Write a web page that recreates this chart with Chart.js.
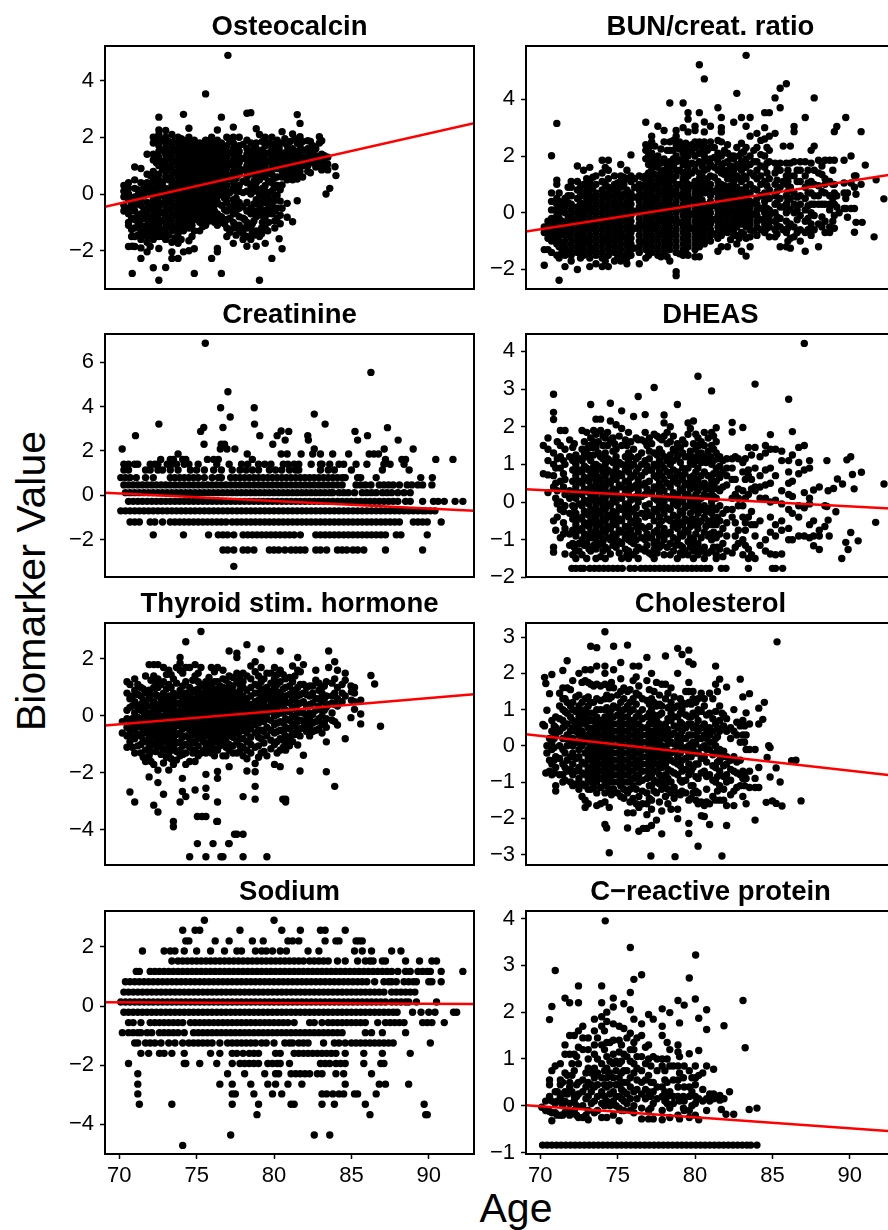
<!DOCTYPE html>
<html>
<head>
<meta charset="utf-8">
<title>Biomarker Value by Age</title>
<script src="https://cdn.jsdelivr.net/npm/chart.js@4/dist/chart.umd.min.js"></script>
<style>
html, body { margin: 0; padding: 0; background: #fff; overflow: hidden; }
#page { position: relative; width: 888px; height: 1230px; overflow: hidden; font-family: "Liberation Sans", Arial, sans-serif; color: #000; }
canvas { position: absolute; }
#ylab { position: absolute; left: 31px; top: 581px; font-size: 41px; white-space: nowrap; transform: translate(-50%, -50%) rotate(-90deg); }
#xlab { position: absolute; left: 516px; top: 1208px; font-size: 41px; white-space: nowrap; transform: translate(-50%, -50%); }
</style>
</head>
<body>
<div id="page">
<div id="ylab">Biomarker Value</div>
<div id="xlab">Age</div>
</div>
<script>
const xTicks = [70, 75, 80, 85, 90];
const xRange = [69.08, 92.92];
const minus = '\u2212';

const titles = ['Osteocalcin', 'BUN/creat. ratio', 'Creatinine', 'DHEAS', 'Thyroid stim. hormone', 'Cholesterol', 'Sodium', `C${minus}reactive protein`];
const yRanges = [[-3.35, 5.22], [-2.69, 5.88], [-3.68, 7.27], [-1.99, 4.46], [-5.23, 3.26], [-3.29, 3.39], [-5.0, 3.21], [-1.03, 4.16]];
const yTicks = [[-2, 0, 2, 4], [-2, 0, 2, 4], [-2, 0, 2, 4, 6], [-2, -1, 0, 1, 2, 3, 4], [-4, -2, 0, 2], [-3, -2, -1, 0, 1, 2, 3], [-4, -2, 0, 2], [-1, 0, 1, 2, 3, 4]];
const fitLines = [[-0.45, 2.5], [-0.66, 1.37], [0.12, -0.69], [0.34, -0.18], [-0.34, 0.76], [0.32, -0.83], [0.125, 0.07], [0.01, -0.55]];
const plotTops = [46, 334, 623, 911];
const plotBottoms = [289, 577, 865, 1154];
const plotLefts = [105, 526];

// age rows: [age, value, value, ...]
const osteocalcin = [
[70.3,.3,.1,-.1,-.4,-.6],[70.6,.4,.2,0,-.2,-.5,-.7,-1,-1.1,-1.85],[70.84,-2.8,-1.84],[71,.5,.2,-.1,-.4,-.6,-.9,-1.2,-1.5,-1.85,.95],
[71.4,.9,.4,.1,-.2,-.4,-.7,-.9,-1.1,-1.3,-1.6,-1.9,-2.27],[71.8,1.4,.7,.4,.1,-.3,-.5,-.7,-.9,-1.1,-1.3,-1.5,-1.7,-2.04],
[72.2,2,1.8,1.4,1.2,.8,.5,.2,0,-.2,-.4,-.6,-.8,-1,-1.2,-1.4,-1.6,-2.6],[72.56,2.71,2.26,2.1,1.7,1.5,1.3,1,.7,.5,.3,.1,-.1,-.3,-.5,-.7,-.9,-1.1,-1.3,-1.5,-1.92,-3.04],
[73,2.24,2,1.8,1.6,1.4,1.2,1,.8,.6,.2,0,-.2,-.4,-.6,-.8,-1,-1.2,-1.4,-1.6,-2.59],[73.4,2.1,1.7,1.5,1.3,1.1,.9,.7,.5,.3,.1,-.1,-.3,-.5,-.7,-.9,-1.1,-1.3,-1.7,-2.04,-2.27],
[73.8,2,1.8,1.6,1.4,1.2,1,.8,.6,.4,.2,0,-.2,-.4,-.6,-.8,-1,-1.2,-1.4,-1.74,-2.27],[74.15,2.81,1.9,1.7,1.5,1.3,1.1,.9,.7,.5,.3,.1,-.1,-.3,-.5,-.7,-.9,-1.1,-1.3,-2.04],
[74.5,2.32,2,1.8,1.6,1.4,1.2,1,.8,.6,.4,.2,0,-.2,-.4,-.6,-.8,-1,-1.2,-1.65,-2],[74.85,1.9,1.7,1.5,1.3,1.1,.9,.7,.5,.3,.1,-.1,-.3,-.5,-.7,-.9,-1.3,-1.93,-2.8],
[75.2,1.8,1.6,1.4,1.2,1,.8,.6,.4,.2,0,-.2,-.4,-.6,-.8,-1,-1.3],[75.58,3.53,1.9,1.7,1.5,1.3,1.1,.9,.7,.5,.3,.1,-.1,-.3,-.5,-.7,-.9,-1.1],
[75.97,2,1.8,1.6,1.4,1.2,1,.8,.6,.4,.2,0,-.2,-.4,-.6,-.8,-2.27],[76.34,2.26,1.9,1.7,1.5,1.3,1.1,.9,.7,.5,.3,.1,-.1,-.3,-.7,-.9,-1.1,-1.92,-2.04],
[76.6,2.71,1.8,1.6,1.4,1.2,1,.8,.6,.4,.2,0,-.4,-.8,-1,-2.8],[76.95,2,1.7,1.5,1.3,1.1,.9,.7,.5,.3,.1,-.1,-.3,-.6,-.9,-1.2,-1.5],
[77.37,2.36,2,1.8,1.6,1.4,1.2,1,.8,.6,.4,.2,-.2,-.4,-.7,-1,-1.2,-1.74],[77.75,2,1.7,1.5,1.3,1.1,.9,.7,.3,.1,-.3,-.5,-.8,-1.1,-1.3],
[78.25,2.85,1.9,1.6,1.4,1.2,1,.8,.6,.4,.1,-.3,-.6,-1,-1.2,-1.5,-1.84],[78.5,2.87,1.8,1.5,1.3,1.1,.9,.7,.3,0,-.5,-.7,-1.2,-1.6],
[78.85,2.3,1.8,1.6,1.4,1.2,1,.8,.6,.4,.2,-.2,-.6,-.8,-1.3,-1.84],[79.06,2.1,1.5,1.3,1.1,.9,.5,0,-.4,-.7,-1.5,-3.04],
[79.43,2,1.7,1.4,1.2,1,.8,.6,.3,.1,-.3,-.6,-.8,-1.2,-1.74],[79.86,2,1.6,1.3,1.1,.9,.7,.4,.1,-.4,-.7,-2.27],
[80.2,1.9,1.7,1.5,1.3,1.1,.9,.6,.3,-.04,-.5,-.85],[80.52,2.2,1.8,1.4,1.2,1,.8,.6,.32,-.5,-1.93],[80.33,-1.58,1.6],
[80.85,1.7,1.5,1.3,1.1,.9,.7,.5,-.33,-.82],[81.2,2.12,1.6,1.4,1.2,1,.8,.5,-.98],[81.5,2.8,1.8,1.5,1.3,1.1,.9,.7,.53,-.24],
[81.68,2.49,2.02,1.7,1.4,1.2,.8],[82.18,1.88,1.6,1.4,1.2,1,.8],[82.5,1.7,1.5,1.3,1.1],[82.93,2.02,1.8,1.3,1.1,1.3],[83.08,1.88,1.4,1.2,1,.85],
[83.47,1.3,1.05,.85],[83.6,.2],[83.36,0],[83.94,.96],[84,.65],[77.02,4.89]
];
const osteocalcinFill = [
[70.8,-.35,-.85,-1.25,-1.5],[71.2,.15,-.05,-.3,-.75,-1,-1.45],[71.6,.25,-.05,-.55,-.8,-1.2,-1.45],[72,.65,.3,.05,-.45,-.85,-1.2,-1.45,-1.85],[72.4,1.9,1.1,.65,.4,.15,-.15,-.45,-.75,-1.05,-1.35],
[72.8,1.9,1.55,1.15,.85,.4,.15,-.05,-.35,-.65,-.95,-1.25,-1.5],[73.2,1.85,1.4,.95,.5,.1,-.25,-.55,-.85,-1.15,-1.45],[73.6,1.9,1.55,1.15,.75,.35,-.05,-.45,-.75,-1.2,-1.55],[74,1.95,1.45,1.05,.65,.25,-.15,-.5,-.85,-1.25,-1.6],
[74.7,1.6,1.2,.8,.4,0,-.4,-.8,-1.1,-1.5],[75.4,1.65,1.25,.85,.45,.05,-.35,-.75,-1.15],[75.8,1.75,1.35,.95,.55,.15,-.25,-.65,-.95],[76.15,1.65,1.25,.85,.45,.05,-.4,-.6,-1],[76.8,1.65,1.15,.75,.25,-.15,-.55,-1.05],
[77.15,1.85,1.45,1.05,.65,.05,-.5,-.85,-1.35],[77.55,1.55,1.05,.55,.1,-.15,-.6,-1.1,-1.45],[78,1.75,1.25,.85,.45,.05,-.45,-.85,-1.4,-1.6],[78.7,1.65,1.25,.85,.45,.1,-.35,-.95,-1.45],[79.25,1.85,1.55,1.2,.7,.2,-.1,-.55,-1],
[79.65,1.8,1.45,1.15,.75,.45,-.15,-.5,-1],[80,1.75,1.45,1.05,.55,.2,-.25],[80.7,1.95,1.45,1.05,.75],[81.05,1.85,1.5,1.15,.9,.7],[81.35,1.95,1.3,1,.65],[81.85,1.85,1.55,1.3,1,.6],[82.35,1.85,1.35,1.15,.75],[82.7,1.6,1.35,1.15,.95],[83.25,1.35,1.1,.9],
[78.1,-.9,-1.2],[78.6,.2,-1.05,-1.35],[79.2,-.3,-.75,-1.2,-1.4],[79.6,.05,-.25,-.7,-1.3],[80.05,-.05,-.6,-.95,-1.2],[80.4,.15,-.25,-.75,-1.05]
];
const bunRatio = [
[70.26,-1.85,-1.3,-.5,-.7],[70.5,-.3,-.5,-.7,-.9,-1.3],[70.73,2.01,.7,.4,.1,-.2,-.4,-.6,-.8,-1,-1.4],[71.07,3.15,1.15,1,.5,.3,.1,-.1,-.3,-.5,-.7,-.9,-1.1,-1.5],
[71.22,-2.38,.7,.4,.2,0,-.2,-.4,-.6,-.8,-1,-1.2,-1.6],[71.6,.5,.2,0,-.4,-.6,-.8,-1,-1.2,-1.5,-1.9],[72,1.1,.9,.6,.3,.1,-.1,-.3,-.5,-.7,-.9,-1.1,-1.3,-1.5,-1.7],
[72.4,1.65,1.1,.8,.5,.2,0,-.2,-.4,-.6,-.8,-1,-1.2,-1.4,-2],[72.8,1.5,1,.7,.3,.1,-.1,-.3,-.5,-.7,-.9,-1.1,-1.3,-1.5],[73.2,1.6,1.1,.8,.6,.4,.2,0,-.2,-.4,-.6,-.8,-1,-1.2,-1.4,-1.6,-1.9],
[73.6,1.3,1,.7,.5,.3,.1,-.1,-.3,-.5,-.7,-.9,-1.1,-1.3,-1.5,-1.8],[74,1.85,1.4,1.1,.8,.6,.4,.2,0,-.2,-.4,-.6,-.8,-1,-1.2,-1.4,-1.6,-1.9],
[74.4,1.85,1.5,1.2,.9,.7,.5,.3,.1,-.1,-.3,-.5,-.7,-.9,-1.1,-1.3,-1.5,-1.9],[74.8,1.3,1,.8,.6,.4,.2,0,-.2,-.4,-.6,-.8,-1,-1.2,-1.4,-1.7],
[75.2,1.7,1.3,1.1,.9,.5,.3,.1,-.1,-.3,-.5,-.7,-.9,-1.1,-1.3,-1.5,-1.7],[75.6,1.5,1.2,.8,.6,.4,.2,0,-.2,-.4,-.6,-.8,-1,-1.2,-1.4,-1.6,-1.8],
[75.86,2.04,1.3,1.1,.7,.5,.3,.1,-.1,-.3,-.5,-.7,-.9,-1.1,-1.3,-1.5],[76.4,1.3,1,.8,.6,.4,.2,0,-.2,-.4,-.6,-.8,-1,-1.2,-1.4,-1.8],
[76.82,3.19,2.4,2.2,1.9,1.3,1.1,.9,.7,.5,.3,.1,-.1,-.3,-.5,-.7,-.9,-1.1,-1.3,-1.6],[77.2,2.7,2.5,2.1,1.8,1.5,1.2,1,.8,.6,.4,.2,0,-.2,-.4,-.6,-.8,-1,-1.2,-1.4],
[77.6,3.05,2,1.8,1.6,1.3,1.1,.9,.7,.5,.3,.1,-.1,-.3,-.5,-.7,-.9,-1.1,-1.3,-1.5],[78,2.9,2.5,1.9,1.5,1.2,1,.8,.6,.4,.2,0,-.2,-.4,-.6,-.8,-1,-1.2,-1.4],
[78.37,3.87,2.5,2.2,1.8,1.6,1.4,1.1,.9,.7,.5,.3,.1,-.1,-.3,-.5,-.7,-.9,-1.1,-1.3,-1.7],[78.78,2.9,2.7,2.4,2,1.8,1.5,1.3,1,.8,.6,.4,.2,0,-.2,-.4,-.6,-.8,-1,-1.2,-1.4,-2.08,-2.22],
[79.23,3.87,3,2.4,2.1,1.9,1.7,1.4,1.2,.9,.7,.5,.3,.1,-.1,-.3,-.5,-.7,-.9,-1.1,-1.3,-1.5],[79.55,3.53,3.3,2.85,2.35,2,1.6,1.3,1,.8,.6,.4,.2,0,-.2,-.4,-.6,-.8,-1,-1.2,-1.5],
[80,3.05,2.9,2.5,2.3,2,1.7,1.5,1.1,.9,.7,.5,.3,.1,-.1,-.3,-.5,-.7,-.9,-1.1,-1.3,-1.55],[80.28,5.22,3.53,2.5,2.35,2.1,1.8,1.4,1.2,1,.8,.6,.4,.2,0,-.2,-.4,-.6,-.8,-1,-1.2,-1.55],
[80.6,4.72,3.2,2.85,2.5,2.35,2,1.8,1.5,1.1,.9,.7,.3,.1,-.1,-.3,-.5,-.7,-.9,-1.1],[81,3.05,2.5,2.3,1.9,1.7,1.3,1,.8,.6,.4,.2,0,-.2,-.4,-.6,-.8,-1],
[81.48,3.7,2.55,2.1,1.8,1.5,1.1,.9,.7,.5,.3,.1,-.1,-.3,-.5,-.7,-.9,-1.36],[81.7,3.36,3,2.85,2.5,2,1.6,1.4,1,.8,.6,.4,.2,0,-.2,-.4,-.6,-.8,-1.2],
[82.1,2.4,2.1,1.8,1.5,1.2,.9,.7,.5,.3,.1,-.1,-.3,-.5,-.7,-1.2],[82.5,3.19,2,1.9,1.5,1.1,.8,.6,.4,.2,0,-.2,-.4,-.6,-.8],
[82.7,4.21,2.3,1.7,1.3,.9,.5,.3,.1,-.1,-.3,-.5,-.8,-1.1],[83,3.36,2.45,2.1,1.8,1.5,1.1,.8,.6,.4,.2,0,-.2,-.4,-.7,-1.36],
[83.3,5.55,3.05,2.3,1.9,1.6,1.2,.9,.5,.3,.1,-.1,-.3,-.5,-.9,-1.53],[83.56,3.36,2.7,2,1.7,1.4,1,.7,.4,.2,0,-.2,-.4,-.6,-.85,-1.2],
[84,2.8,2.3,1.8,1.5,1.2,.8,.5,.3,.1,-.1,-.3,-.5,-.8],[84.5,3.53,3,2.6,2,1.6,1.1,.7,.4,.2,0,-.2,-.4,-.7],[84.8,3.53,2.7,2.2,1.8,1.2,.8,.5,.1,-.1,-.3,-.5,-.85],
[85.17,4.05,2.8,1.75,1.4,1,.6,.3,0,-.3,-.6,-.85],[85.5,4.39,3.7,1.75,1.5,.9,.5,.2,-.2,-.5,-1.2],[85.9,4.55,1.75,1.3,1,.6,.3,0,-.3,-.7,-1.2],
[85.7,2.35,1.1,.2,-.6],[86.16,2.35,1.75,1.3,.9,.5,.1,-.4,-.9,-1.25],[86.4,3.04,2.86,1.8,1.3,.7,.3,0,-.5,-.85],[86.8,1.8,1.5,1.1,.6,.3,-.1,-.6,-1],
[87.12,3.36,1.8,1.3,.9,.5,.1,-.3,-.7,-1.36],[87.5,2.2,1.75,1.1,.7,.3,0,-.4,-.8],[87.7,4.05,2.35,1.5,1,.6,.3,-.1,-.6],[87.98,1.85,1.4,.95,.6,.3,-.4,-1.2],
[88.4,1.85,1.2,1,.7,.3,-.3,-.7],[88.7,1.85,1.1,.6,.3,.1,-.5,-.7],[89,2.86,1.85,1,.7,.3,-.1,-.55],[89.16,3.04,.6,.2],[89.63,1.85,1.05,.7,.15],[89.74,3.36,.5,.15],
[89.85,-.16,.7],[90.08,2,1.05,.15],[90.3,1.3,.9,.15,-.69],[90.4,-.34,1.3,.65],[90.73,2.86,1],[90.8,-.34],[91,1.68],[91.57,-.85],[91.7,1.16],[92.2,.49],[89.31,0]
];
const bunFill = [
[71.4,.3,.1,-.3,-.7,-1.1,-1.4],[71.8,.9,.6,.35,-.2,-.7,-1.35],[72.6,.9,.6,.35,.05,-.35,-.75,-1.25,-1.6],[73,1.2,.9,.5,.1,-.5,-1],[73.4,1.25,.9,.5,.05,-.5,-1.3],[74.2,1.6,1,.55,.15,-.35,-.9,-1.7],[75,1.05,.7,.2,-.25,-.75,-1.6],
[75.4,1.25,1,.65,.15,-.25,-.85,-1.6],[76.1,1.2,.9,.55,.05,-.55,-1.25],[76.6,1.25,.95,.6,.15,-.45,-1.05],[77,2.3,2,1.7,1.4,1.05,.65,.15,-.35,-1.5],[77.4,2.35,1.95,1.65,1.35,.95,.45,-.05,-.55],[77.8,2.25,1.75,1.4,1.1,.75,.25,-.25,-.75,-1.55],
[78.2,2.2,1.7,1.3,.9,.45,.05,-.45,-1.55],[78.6,2.55,2.2,1.9,1.65,1.2,.7,.25,-.25,-.75],[79,2.5,2.25,1.85,1.5,1,.6,.15,-.35,-1.45],[79.4,2.45,2.2,1.8,1.45,1.1,.65,.2,-.3,-1.4],[79.8,2.4,2.15,1.75,1.4,.95,.45,-.05,-.55],[80.45,2.15,1.65,1.3,.95,.45,-.05,-.55],
[80.8,2.2,1.85,1.55,1.2,.8,.2,-.3],[81.25,2.3,1.95,1.6,1.25,.75,.25,-.25,-.75],[81.9,2.2,1.75,1.35,.95,.45,-.05,-.55],[82.3,2,1.65,1.3,.95,.5,.05,-.55,-.95],[82.85,2,1.6,1.2,.7,.2,-.25,-.9],[83.15,2.15,1.7,1.3,.7,.2,-.35,-.75],[83.8,2.2,1.8,1.3,.85,.35,-.05,-.65],
[84.25,2.55,2.05,1.65,1.3,1,.6,.15,-.25,-.6],[84.65,2.3,1.75,1.4,.95,.55,.15,-.55],[85.3,1.55,1.15,.75,.35,-.15,-.45,-.75],[86,1.5,1.1,.75,.45,.15,-.55,-1],[86.6,1.5,1.1,.55,.1,-.25,-.7],[87.3,1.5,1.05,.7,.25,-.2,-.6],[88.2,1.65,1.35,.75,.3,-.15,-.5],[88.9,1.5,1,.5,.3,-.3]
];
// creatinine is in discrete levels: [value, age, age, ...]
const creatinineLevels = [
[1.62,72.68,73.3,73.5,74.1,74.3,75.7,76.1,76.4,78.6,88.26,88.5,90.45,91.56,87.2],
[1.4,70.3,70.6,71,71.2,72,72.3,72.5,73.1,73.4,73.7,74.2,74.5,75.1,76.3,77.1,77.9,78.3,79,79.4,79.8,80.6,80.9,81.3,81.6,82.4,83,83.1,83.6,84.2,84.5,85.3,86,87.1,87.5,88.4],
[1.14,70.3,70.6,71.7,72,72.5,72.8,73.3,73.8,74.6,75,75.5,76.1,76.6,77.3,77.8,78.2,78.6,79,79.7,80.1,80.5,81,81.4,81.6,83,83.5,83.9,85,87,88.73],
[.8,70.1,70.4,70.7,71.1,71.7,72.2,73.3,73.6,73.9,74.2,74.5,74.8,75.1,75.5,76,76.4,76.6,77.2,77.5,77.8,78.1,78.4,78.7,79,79.3,79.6,79.9,80.2,80.5,80.8,81.1,81.4,81.7,82,82.3,82.6,82.9,83.2,83.5,83.8,84.1,84.4,84.6,85.4,85.6,86.6,89.48,90.23],
[.47,70.3,70.6,70.9,71.2,71.5,71.8,72.1,72.4,72.7,73,73.3,73.6,73.9,74.2,74.5,74.8,75.1,75.4,75.7,76,76.3,76.6,76.9,77.2,77.5,77.8,78.1,78.4,78.7,79,79.3,79.6,79.9,80.2,80.5,80.8,81.1,81.4,81.7,82,82.3,82.6,82.9,83.2,83.5,83.8,84.1,84.4,85.3,85.6,85.9,86.26,86.8,87.1,87.4,87.7,88.1,88.6,88.9,89.3,89.6,90.2],
[.12,70.4,70.7,71,71.3,71.6,71.9,72.2,72.5,72.8,73.1,73.4,73.7,74,74.3,74.6,74.9,75.2,75.5,75.8,76.1,76.4,76.7,77,77.3,77.6,77.9,78.2,78.5,78.8,79.1,79.4,79.7,80,80.3,80.6,80.9,81.2,81.5,81.8,82.1,82.4,82.7,83,83.3,83.6,83.8,84.2,84.5,84.8,85.2,85.7,86,86.3,86.6,87,87.3,87.6,88,88.4,88.8],
[-.27,70.6,70.9,71.2,71.5,71.8,72.1,72.4,72.7,73,73.3,73.6,73.9,74.2,74.5,74.8,75.1,75.4,75.7,76,76.3,76.6,76.9,77.2,77.5,77.8,78.1,78.4,78.7,79,79.3,79.6,79.9,80.2,80.5,80.8,81.1,81.4,81.7,82,82.3,82.6,82.9,83.2,83.5,83.8,84.1,84.4,84.7,85,85.3,85.6,85.9,86.2,86.5,86.8,87.1,87.4,87.7,88,88.5,88.8,89.6,90.3,90.6,91,91.7,92.2],
[-.7,70.1,70.4,70.7,71,71.3,71.6,71.9,72.2,72.5,72.8,73.1,73.4,73.7,74,74.3,74.6,74.9,75.2,75.5,75.8,76.1,76.4,76.7,77,77.3,77.6,77.9,78.2,78.5,78.8,79.1,79.4,79.7,80,80.3,80.6,80.9,81.2,81.5,81.8,82.1,82.4,82.7,83,83.3,83.6,83.9,84.2,84.5,84.8,85.1,85.4,85.7,86,86.3,86.6,86.9,87.2,87.5,87.8,88.1,88.4,88.7,89,89.3,89.6,89.8,90.1,90.4],
[-1.2,70.7,71,71.3,72,72.3,72.8,73.3,73.6,73.9,74.2,74.5,74.8,75.1,75.4,75.7,76,76.3,76.6,76.9,77.3,77.6,77.9,78.2,78.5,78.8,79.1,79.4,79.7,80,80.3,80.6,80.9,81.2,81.5,81.8,82.1,82.4,82.7,83,83.3,83.6,83.9,84.2,84.5,84.8,85.1,85.4,85.7,86,86.3,86.6,86.9,87.2,87.5,87.8,88.1,89,89.3,89.6,89.9,90.8],
[-1.78,72.2,74.15,75.77,76.4,76.7,77,77.4,78,78.3,78.6,78.9,79.2,79.5,79.8,80.1,80.4,80.7,81,81.3,81.7,82.7,83,83.3,83.6,83.9,84.2,84.5,84.8,85.1,85.4,85.7,86,86.3,86.6,86.9,87.2,87.9,88.2,89.9],
[-2.46,76.7,77,77.4,78,78.3,78.7,79.7,80,80.3,80.7,81.1,81.4,81.7,82,82.7,83,83.4,84.1,84.4,84.7,85.1,85.4,85.8,87.2,89.6],
[-3.2,77.4]
];
const creatinineOut = [[75.56,6.85],[86.26,5.54],[77.02,4.67],[76.55,3.95],[78.72,3.95],[77.17,3.53],[72.56,3.21],[78.74,3.21],[82.6,3.66],[83.3,3.21],[75.46,3.06],[75.26,2.88],[76.7,3.06],[71.05,2.69],[79.08,2.69],[80.46,2.9],[80.2,2.69],[80.95,2.88],[80.72,2.49],[82.18,2.69],[82.22,2.49],[85.23,2.88],[85.4,2.49],[86.04,2.69],[87.33,3.05],[88.02,2.49],[75.48,2.3],[79.92,2.3],[70.19,2.09],[76.59,2.3],[76.8,2.3],[76.53,2.09],[76.96,2.09],[77.47,2.09],[82.6,2.09],[87.12,2.09],[88.99,2.09],[73.8,1.86],[78.27,1.86],[80.46,1.86],[80.85,1.86],[81.75,1.86],[82.5,1.86],[83,1.86],[83.79,1.86],[84.82,1.86],[86.15,1.86],[86.45,1.86],[86.75,1.86]];
const dheas = [
[70.2,1.5,.75],[70.5,1.7,1.4,1.1,.72,.25],[70.86,2.86,2.38,2.19,1.3,1,.7,.4,-.5,-1.2,-1.33],[71,.9,.5,.1,-.75],[71.3,1.9,1.5,1.2,.9,.55,0,-.2,-.95],[71.6,1.9,1.4,1,.6,.2,-.1,-.7,-1.38],
[71.9,1.65,1.2,.3,.1,-.3,-.85,-1.15],[72.3,1.25,1,.7,.4,.1,-.3,-.6,-.9,-1.3,-1.5],[72.7,1.9,1.4,1.1,.8,.5,.2,-.1,-.4,-.7,-1,-1.4],[73,1.85,1.4,1.2,.9,.6,.3,0,-.3,-.6,-.9,-1.1,-1.5],
[73.26,2.59,1.7,1.1,.7,.4,.1,-.2,-.5,-.8,-1.3],[73.6,2.2,1.8,1.45,1,.8,.5,.2,-.1,-.4,-.7,-1,-1.25,-1.5],[73.9,2.2,1.9,1.2,.9,.6,.3,0,-.3,-.6,-.9,-1.1,-1.45],[74.2,1.7,1.3,1,.7,.4,.1,-.2,-.5,-.8,-1.2,-1.5],
[74.53,2.62,2.15,1.65,1.1,.8,.5,.2,-.1,-.4,-.7,-1,-1.38],[74.9,2.05,1.4,1.2,.9,.6,.3,0,-.3,-.6,-.9,-1.2],[75.26,2.42,1.95,1.5,1,.7,.4,.1,-.2,-.5,-.8,-1.1,-1.5],[75.7,1.85,1.3,1.1,.8,.5,.2,-.1,-.4,-.7,-1,-1.3,-1.5],
[76.03,2.27,1.4,1,.7,.4,.1,-.2,-.5,-.9,-1.1,-1.4],[76.33,2.8,1.65,1.2,.9,.6,.3,0,-.5,-.8,-1.2,-1.5],[76.78,2.32,1.85,1.6,1.1,.8,.5,.2,-.1,-.4,-.7,-1,-1.3],[77.36,3.04,1.8,1.3,1,.7,.4,.1,-.2,-.5,-.8,-1.1,-1.25,-1.5],
[77.7,1.7,1.4,1.1,.8,.5,.2,-.1,-.4,-.6,-.9,-1.2],[78,2.31,2.1,1.75,1.2,.9,.6,.3,0,-.3,-.7,-1,-1.4],[78.4,2,1.6,1.25,1,.7,.4,.1,-.2,-.5,-.8,-1.1,-1.4],[78.86,2.59,1.55,1.2,.8,.5,.2,-.1,-.4,-.7,-1,-1.5],
[79.2,1.65,1.3,.9,.6,.3,0,-.3,-.6,-.9,-1.2,-1.4],[79.55,2.1,1.8,1.2,.9,.5,.2,-.1,-.5,-.8,-1.05,-1.4],[79.9,2.15,1.55,1,.7,.4,.1,-.2,-.6,-1,-1.3,-1.5],[80.19,3.34,1.7,1.25,.9,.6,.3,0,-.3,-.7,-1.1,-1.4],
[80.6,1.85,1.5,1.2,.8,.5,.2,-.1,-.4,-.8,-1.2,-1.5],[81.07,2.95,1.85,1.5,1,.6,.3,0,-.3,-.6,-1,-1.3],[81.37,1.97,1.6,1.3,.9,.55,.1,-.2,-.6,-.95,-1.4,-1.5],[81.8,1.1,.8,.4,-.3,-.7,-1.1,-1.45],
[82.4,2.11,1.86,1.15,.9,.6,.1,-.2,-.4,-1.35],[82.8,1.15,.35,.1,-.1,-.75,-1.1],[83.09,1.98,1.05,.8,.3,-.1,-.4,-1,-1.4],[83.45,1.45,.85,.7,.2,-.4,-1.25,-1.5],[83.88,3.13,1.45,.9,.4,.3,-.6,-.9,-1.5],
[84.2,1.2,.7,.4,.1,-.5,-1.15],[84.55,1.5,1.3,.85,.45,.1,-1,-1.3],[84.87,1.79,1.4,.9,.5,0,-.4,-.8,-1.38],[85.2,1.4,.7,.05,-.6,-.9,-1.4],[85.6,1.35,1.1,.3,-.05,-.5,-.75,-1.38],
[86.05,2.73,1.1,.8,.5,.2,-.2,-.7,-1],[86.29,1.87,1.25,.55,.15,-.3,-1],[86.7,1.45,1.05,.75,-.1,-.4,-.9],[87.06,4.21,1.5,.85,.25,-.15,-.9],[87.4,1.1,.9,.1,-.05,-.6,-.95],[87.66,.32,-.5,-1.16,-.9],
[88.03,.4,-.75,-.9,-1.26],[88.39,-.65,-.1],[88.52,1.1,-.12],[88.6,-.48,.3],[88.67,-.9],[88.95,.36],[89.1,-.26],[89.2,.61],[89.48,-1.5],[89.53,.48],[89.74,-1.07],[89.81,1.12],[89.89,-1.26],[90.06,1.2,-.81],[90.17,.73],[90.28,.35],[90.54,-1.03],[90.75,.79],[91.67,-.54],[92.21,.48]
];
const dheasFill = [
[71.1,1.6,1.15,.3,-.05,-.4],[71.5,1.1,.75,.4,-.25,-.55,-.85],[72.1,1.45,1.1,.85,.55,.2,-.1,-.45,-.75,-1.1,-1.4],[72.5,1.15,.85,.55,.25,-.05,-.45,-.75,-1.1,-1.3],[72.85,1.6,1.25,.95,.65,.35,.05,-.25,-.55,-.85,-1.15],
[73.15,1.5,1.25,.85,.55,.25,-.05,-.35,-.65,-.95,-1.25],[73.45,1.9,1.6,1.25,.95,.65,.35,.05,-.25,-.55,-.85,-1.15],[73.75,1.6,1.3,.95,.65,.4,.05,-.25,-.55,-.85,-1.15],[74.05,1.75,1.5,1.15,.8,.45,.15,-.15,-.45,-.75,-1.05,-1.3],[74.35,1.85,1.5,1.15,.85,.55,.25,-.05,-.35,-.65,-.95,-1.25],
[74.7,1.7,1.35,1.05,.65,.35,.05,-.25,-.55,-.85,-1.15],[75.1,1.75,1.05,.75,.45,.15,-.15,-.45,-.75,-1.05,-1.35],[75.5,1.65,1.2,.85,.55,.25,-.05,-.35,-.65,-.95,-1.25],[75.85,1.6,1.2,.95,.65,.35,.05,-.25,-.55,-.75,-1.05,-1.4],[76.2,1.7,1.15,.8,.45,.15,-.15,-.35,-.65,-1,-1.3],
[76.55,1.65,1.3,1,.7,.45,.15,-.3,-.65,-.95,-1.25],[77.05,1.7,1.35,1.15,.85,.55,.25,-.05,-.35,-.65,-.95,-1.35],[77.55,1.75,1.25,.95,.65,.35,.05,-.25,-.75,-1.05,-1.35],[77.85,1.65,1.3,1,.7,.4,.1,-.15,-.5,-.85,-1.15],[78.2,1.85,1.55,1.1,.8,.5,.15,-.15,-.45,-.85,-1.2],
[78.6,1.75,1.4,1.1,.85,.55,.25,-.05,-.35,-.65,-.95,-1.3],[79.05,1.45,1.05,.7,.35,.05,-.25,-.55,-.85,-1.15,-1.35],[79.35,1.55,1.2,.75,.45,.15,-.15,-.45,-.75,-1.3],[79.7,1.95,1.35,1.05,.65,.35,.05,-.3,-.65,-.95,-1.2],[80.05,1.8,1.4,1.1,.8,.5,.2,-.1,-.45,-.85,-1.2],
[80.4,1.6,1.3,1.05,.7,.4,.1,-.2,-.5,-.95,-1.3],[80.85,1.7,1.35,1.1,.7,.4,.15,-.2,-.5,-.9,-1.35],[81.2,1.75,1.4,1.1,.75,.45,.15,-.15,-.45,-.8,-1.2],[81.6,1.2,.95,.65,.3,-.1,-.5,-.85,-1.25],[82.05,1.15,.9,.7,.45,-.2,-.55,-.9,-1.3],[82.6,1.2,.6,.2,-.55,-.9,-1.2],[83.25,1.15,.6,.1,-.55,-.75,-1.15],[83.65,1.25,.6,.35,-.25,-.6,-1.4],
[72.2,1.55,.85,.25,-.15,-.75,-1.2],[73.35,1.45,.85,.25,-.35,-.95],[74.8,1.55,.75,.15,-.45,-1.05],[75.6,1.5,1,.35,-.2,-.85,-1.4],[76.9,1.5,.95,.35,-.25,-.85,-1.15],[77.2,1.55,.85,.25,-.35,-.95,-1.4],[78.75,1.35,.65,.05,-.55,-1.15],[79.8,1.2,.55,-.05,-.45,-1.1],[80.25,1.5,1.1,.45,-.15,-.55,-1.25],[80.7,1.05,.35,-.25,-.65,-1.35],[81,1.2,.45,-.15,-.85],[81.45,1.15,.75,.35,-.4,-1.2]
];
const thyroid = [
[70.2,-.2,-.6],[70.5,1.2,.8,.2,-.1,-.4,-.7,-1.1],[70.69,1.1,.6,.3,-.3,-.6,-.9,-2.67],[71,1.3,.9,.5,.1,-.2,-.5,-.8,-1.3,-3.02],[71.4,1,.7,.4,.2,-.1,-.4,-.7,-1,-1.3],[71.7,1.4,.8,.5,.3,0,-.3,-.6,-.9,-1.2,-1.6],
[71.93,1.8,.9,.6,.1,-.2,-.5,-.8,-1.1,-1.4,-2.14],[72.23,1.8,1.4,1,.5,.2,-.1,-.4,-.7,-1,-1.7,-3.13],[72.5,1.8,1.3,1,.7,.4,.1,-.2,-.5,-.8,-1.1,-1.9,-2.34,-3.37],[72.86,1.7,1.2,.8,.5,.3,0,-.3,-.6,-.9,-1.2,-1.65,-2.75],
[73.2,1.6,1.1,.7,.4,.2,-.1,-.4,-.7,-1,-1.3,-1.9],[73.5,1.3,.8,.5,.3,0,-.2,-.5,-.8,-1.1,-1.7,-3.7,-3.89],[73.93,2.05,1.85,1.6,.9,.7,.4,.2,0,-.3,-.6,-.9,-1.2,-1.4,-3.02],[74.3,2.6,1.7,1.2,.8,.6,.4,.2,0,-.2,-.4,-.7,-1,-1.3,-1.7,-2.83],
[74.55,1.7,1,.7,.5,.3,.1,-.1,-.3,-.5,-.8,-1.1,-1.6,-4.94],[74.9,1.8,1.4,.9,.6,.4,.2,0,-.2,-.4,-.6,-.9,-1.2,-1.6,-2.6],[75.28,2.96,1.7,1.1,.8,.6,.4,.2,0,-.2,-.4,-.6,-.8,-1.3],[75.6,1.2,.9,.7,.5,.3,.1,-.1,-.3,-.5,-.7,-1,-1.3,-2.05,-2.54,-2.83,-3.53,-4.94],
[75.95,1.7,1.1,.8,.6,.4,.2,0,-.2,-.4,-.6,-.8,-1.1,-1.3],[76.35,1.7,1.2,.9,.7,.5,.3,.1,-.1,-.3,-.5,-.7,-.9,-1.2,-1.95,-2.19,-3.02,-3.7],[76.7,1.6,1.3,1,.8,.6,.4,.2,0,-.2,-.4,-.6,-.8,-1,-1.4,-4.94],
[77.1,2.28,1.4,1.1,.9,.7,.5,.3,.1,-.1,-.3,-.5,-.7,-1,-1.2,-1.78,-4.48],[77.6,2.2,2.05,1.5,1.2,.8,.6,.4,.2,0,-.2,-.4,-.6,-.9,-1.3,-4.15],[78,1.5,1.2,1,.7,.5,.3,.1,-.1,-.3,-.5,-.8,-1.1,-1.4,-2.83,-4.15,-4.94],
[78.25,2.5,1.4,.9,.6,.4,.2,0,-.2,-.4,-.6,-.9,-1.2,-1.5,-1.93],[78.78,1.9,1.55,1.1,.8,.5,.3,.1,-.1,-.3,-.6,-1.1,-1.67,-1.96,-2.47,-2.92],[79.17,2.35,1.7,1.2,.9,.7,.4,.2,0,-.2,-.5,-.8,-1.3],[79.54,1.5,1,.8,.6,.3,.1,-.1,-.4,-.7,-1.4,-4.94],
[80.03,1.7,1.3,1,.7,.5,.2,0,-.3,-.6,-1,-1.7],[80.4,2.28,1.6,1.2,.8,.6,.4,.1,-.2,-.5,-.8,-1.2,-1.78],[80.75,1.3,1,.7,.5,.2,-.1,-.4,-.7,-.9,-1.2,-2.92,-3.02],[81.2,1.75,1.2,.9,.6,.3,0,-.3,-.6,-.9],
[81.53,2.05,1.6,1,.7,.4,.1,-.2,-.5,-1.02],[81.9,1.8,1.1,.8,.5,.1,-.2,-.4,-1.38],[81.68,-1.93,-.7],[82.3,1.05,.7,.4,.1,-.1,-.4,-.7],[82.7,1.6,1.25,.6,.2,-.2,-.5],[83.1,1,.8,.5,.2,0,-.3,-.6],
[83.38,1.2,.7,.3,-.1,-.4,-.91,-1.96],[83.53,2.28,1.7,.4],[83.92,1.9,1.3,.8,.4,-.2,-2.47],[84.1,1.6,1,.6,.35,-.32],[84.6,1.5,1.25,.7,-.8],[85.2,1,.8,.5,.23],[85.6,.55,.07,-.28],[84.97,1.05,-.06],[86.26,1.42],[86.5,1.12],[86.88,-.36],
[75.05,-4.48,-3.53],[76.06,-4.48],[75.35,-3.53],[74.08,-2.65,-2.19],[76.3,-3.7],[77.45,-4.15],[77.07,-4.48],[76.57,-4.94],[80.57,-2.92]
];
const thyroidFill = [
[70.85,.7,.35,-.1,-.4,-.75,-1.1],[71.2,1.1,.75,.3,-.05,-.35,-.65,-1.05],[71.55,.95,.55,.15,-.2,-.5,-.85,-1.45],[72.05,1.25,.75,.35,-.05,-.35,-.65,-.95,-1.25,-1.6],[72.35,1.2,.75,.3,0,-.3,-.6,-.9,-1.25],[72.7,1.1,.6,.25,-.1,-.4,-.7,-1,-1.35],
[73.05,1.45,.95,.6,.35,.1,-.2,-.5,-.8,-1.15,-1.45],[73.35,1.45,1,.65,.4,.1,-.3,-.6,-.9,-1.2,-1.5],[73.7,1.7,1.15,.7,.45,.15,-.1,-.35,-.65,-.95,-1.25,-1.55],[74.1,1.5,1.05,.55,.3,.1,-.15,-.45,-.75,-1.05,-1.35],[74.75,1.25,.85,.55,.25,.05,-.2,-.4,-.65,-.95,-1.3],
[75.1,1.5,1.2,.95,.7,.5,.3,.1,-.1,-.3,-.5,-.75,-1.05,-1.4],[75.45,1.05,.8,.6,.4,.2,0,-.2,-.4,-.6,-.9,-1.2],[75.8,1.35,1,.75,.55,.35,.15,-.05,-.25,-.45,-.7,-.95,-1.2],[76.15,1.55,1.2,.95,.75,.55,.35,.15,-.05,-.25,-.45,-.65,-.9,-1.15,-1.4],[76.5,1.05,.85,.65,.45,.25,.05,-.15,-.35,-.55,-.8,-1.05],
[76.9,1.25,.95,.75,.55,.35,.15,-.05,-.25,-.45,-.65,-.9,-1.1,-1.4],[77.35,1.35,1.05,.85,.65,.45,.25,.05,-.15,-.35,-.55,-.75,-1.05,-1.3],[77.8,1.35,1.1,.9,.65,.45,.25,.05,-.15,-.35,-.55,-.8,-1.05,-1.25],[78.5,1.75,1.3,1,.7,.4,.2,0,-.2,-.45,-.75,-1,-1.3],[79,1.4,1.05,.8,.55,.35,.15,-.05,-.25,-.5,-.75,-1.05,-1.45],
[79.35,1.3,.95,.75,.5,.25,.05,-.2,-.55,-.95,-1.25],[79.8,1.5,1.15,.85,.65,.4,.15,-.15,-.5,-.85,-1.15],[80.2,1.45,1.1,.85,.6,.3,.05,-.25,-.55,-.9,-1.3],[80.6,1.45,.95,.65,.35,.1,-.25,-.55,-.85,-1.1],[81,1.35,1.05,.75,.45,.15,-.15,-.45,-.75,-1.05],[81.35,1.4,.85,.55,.25,-.05,-.35,-.65],
[81.7,1.55,1.1,.75,.45,.15,-.15,-.45],[82.1,1,.75,.35,0,-.3,-.55],[82.5,1.05,.8,.45,.05,-.25,-.55],[82.9,1.15,.9,.6,.35,-.1,-.45],[83.25,1.05,.6,.2,-.25],[83.75,1.15,.7,.45,.1,-.15],[84.4,1.1,.8,.5],[85,.85,.55]
];
const cholesterol = [
[70.17,.59],[70.28,1.89,.55],[70.36,1.72,-.75],[70.43,.98,0,-.2],[70.6,1.44,.2,-.4,-.7],[70.75,1.97,.7,.4,.1,-.1,-.5,-.8],[71,.8,.5,.3,-.3,-.6,-1.1,-1.25],[71.46,2.08,1.6,1.3,1,.7,.5,.2,-.1,-.5,-.8,-1],
[71.74,2.35,1.6,1.2,.9,.6,.3,0,-.4,-.7],[72.1,1.8,1.2,1,.7,.5,.2,0,-.2,-.5,-.8,-1.1],[72.5,2,1.4,1.1,.8,.5,.3,.1,-.1,-.3,-.6,-.9,-1.2],[72.9,2.1,1.8,1.3,1,.8,.6,.3,.1,-.2,-.5,-.8,-1.1,-1.5,-1.7],
[73.26,2.75,2.1,1.7,1.2,.9,.7,.4,.2,0,-.2,-.4,-.6,-.8,-1,-1.2],[73.65,2.71,2.2,1.7,1.3,1,.8,.6,.4,.2,0,-.2,-.4,-.6,-.8,-1,-1.3,-1.65],[74.18,3.15,2.2,2,1.7,1.3,1,.8,.6,.4,.2,0,-.2,-.4,-.6,-.8,-1,-1.3,-1.55,-2.17],
[74.46,1.6,1.3,.9,.7,.5,.3,.1,-.1,-.3,-.5,-.7,-.9,-1.2,-1.7,-2.95],[74.74,2.75,2.1,1.6,1.1,.8,.6,.4,.2,0,-.2,-.4,-.6,-.8,-1,-1.2],[75.2,2.3,1.85,1.5,1.2,.9,.7,.5,.3,.1,-.1,-.3,-.5,-.7,-.9,-1.1,-1.4],
[75.64,2.78,1.5,1.1,.8,.6,.4,.2,0,-.2,-.4,-.6,-.8,-1,-1.3,-1.85,-2.27],[76,2.2,1.8,1.3,1,.7,.5,.3,.1,-.1,-.3,-.5,-.7,-.9,-1.1,-1.45,-1.85],[76.37,2.2,1.65,1.4,.9,.6,.4,.2,0,-.2,-.4,-.6,-.8,-1,-1.4,-1.7,-2.36],
[76.89,2.44,1.8,1.25,.8,.5,.3,.1,-.1,-.3,-.5,-.7,-.9,-1.3,-1.6,-1.9,-2.28],[77.19,2,1.3,1,.7,.4,.2,0,-.2,-.4,-.6,-.8,-1.1,-1.5,-1.75,-2.2],[77.51,1.75,1.1,.7,.5,.3,.1,-.1,-.3,-.5,-.7,-1,-1.3,-2.05],
[77.85,1.7,1.1,.9,.5,.3,0,-.2,-.4,-.6,-.9,-1.2,-1.8,-2.43],[78.09,2.48,1.7,1.3,.6,.4,.2,-.1,-.3,-.5,-.8,-1.05,-1.4],[78.45,1.6,1.2,.9,.7,.3,.1,-.2,-.4,-.7,-1,-1.3,-1.75],
[78.88,2.69,2,1.1,.8,.5,.2,0,-.3,-.5,-.8,-1.3,-1.75,-2.01],[79.16,2.52,1.2,1,.6,.4,.2,-.1,-.4,-.7,-1,-1.25],[79.6,2.64,2.32,1.75,1.5,1.2,.8,.6,.3,0,-.2,-.5,-.8,-1.5,-2.14,-2.42],
[79.87,2.25,1.5,1.3,.9,.5,.1,-.1,-.6,-1.1,-1.3],[80.2,1.3,1,.7,.4,.2,-.2,-.5,-.9,-1.3,-1.6,-2.77],[80.6,1.3,1.1,.6,.3,0,-.3,-.7,-1.65,-1.95],[80.94,1.45,.9,.5,.3,.1,-.1,-.8,-1.6,-2.17],
[81.33,2.2,1.7,.95,.6,.2,0,-.2,-.6,-1,-1.5],[81.59,1.84,1.1,.7,.4,-.1,-.4,-.7,-1.1,-1.5],[81.74,.9,-3.04,-.3],[82.04,1.62,.75,.4,-.3,-.5,-.8,-1,-1.65,-2.2],[82.51,1,.4,-.3,-.7,-1.25,-1.65],
[82.92,1.84,.55,.6,.1,-.4,-.8,-1.1],[83.09,1.35,.7,.3,-.7,-.9,-1.4],[83.3,.91,.3,-.1,-.9,-1.6],[83.52,1.44,.6,-.1,-.7,-1.15],[83.88,-.1,-.9,-1.15,-2.05],[84.12,1.04,.6,-.6,-1.15],[84.38,.73],[84.48,1.2],[84.66,-.32],[84.76,0],
[84.6,-1.56],[84.85,-.86,-.05],[85,-1.52],[85.24,-.61,-1.59],[85.3,2.87],[85.5,-1],[85.62,-1.66],[86.24,-.41],[86.52,-.4],[86.85,-1.52],
[77.15,-3.04],[78.71,-3.06],[74.29,-2.27],[76.65,-2.28],[80.41,-1.93]
];
const cholesterolFill = [
[70.9,.55,.2,-.05,-.4,-.75],[71.25,1.45,1.1,.75,.4,0,-.35,-.8],[71.6,1.3,.95,.55,.2,-.2,-.6,-.95],[71.95,1.55,1.1,.8,.4,.1,-.3,-.65,-1],[72.3,1.35,.95,.65,.4,.1,-.35,-.7,-1.05],[72.7,1.75,1.2,.95,.65,.4,.2,0,-.45,-.75,-1.05,-1.4],[73.1,1.75,1.35,1.1,.9,.7,.5,.25,-.1,-.35,-.65,-.95,-1.2,-1.6],[73.45,1.65,1.2,.9,.7,.5,.3,.1,-.1,-.3,-.5,-.7,-.9,-1.15],[73.9,1.65,1.25,1,.7,.5,.3,.1,-.1,-.3,-.5,-.7,-.9,-1.15,-1.6],[74.3,1.4,1.05,.75,.55,.35,.15,-.05,-.25,-.45,-.65,-.85,-1.1],[74.6,1.75,1.35,1,.8,.6,.4,.2,0,-.2,-.4,-.6,-.8,-1,-1.35],
[75,1.4,1.05,.85,.6,.4,.2,0,-.2,-.4,-.6,-.8,-1,-1.3],[75.4,1.6,1.3,1,.8,.6,.4,.2,0,-.2,-.4,-.6,-.8,-1,-1.2,-1.45],[75.8,1.55,1.2,.95,.7,.5,.3,.1,-.1,-.3,-.5,-.7,-.95,-1.2,-1.55],[76.2,1.9,1.45,1.15,.8,.6,.4,.2,0,-.2,-.4,-.6,-.85,-1.2,-1.6],[76.6,1.3,1,.75,.5,.3,.1,-.1,-.3,-.5,-.7,-.95,-1.25,-1.6],[77.05,1.55,1.15,.9,.6,.4,.2,0,-.2,-.4,-.6,-.85,-1.1,-1.45],[77.35,1.5,1.2,.85,.6,.35,.15,-.05,-.25,-.45,-.7,-.95,-1.25],[77.7,1.4,1.15,.85,.6,.4,.15,-.05,-.3,-.55,-.8,-1.05,-1.55],[78.25,1.45,1.05,.75,.45,.25,.05,-.15,-.35,-.65,-.9,-1.2,-1.6],[78.65,1.35,1.05,.8,.55,.35,.05,-.15,-.45,-.75,-1.15,-1.45],[79.05,1.3,.9,.65,.3,.05,-.2,-.55,-.95,-1.35],
[79.4,1.5,1.15,.85,.5,.2,-.05,-.35,-.65,-.95,-1.3],[79.75,1.15,.8,.6,.3,.05,-.3,-.7,-1.1,-1.45],[80.05,1.2,.85,.55,.3,.05,-.2,-.5,-.85,-1.25,-1.5],[80.4,1.45,.95,.5,.2,-.05,-.35,-.75,-1.55],[80.75,.85,.45,.2,-.1,-.45,-.85,-1.2,-1.55],[81.15,1.3,.75,.4,.1,-.25,-.55,-.95,-1.4],[81.45,1.5,.5,.25,-.15,-.45,-.85,-1.25],[81.85,.85,.55,-.15,-.55,-.85,-1.2,-1.5],[82.3,.5,.2,-.4,-.65,-.95,-1.35],[82.7,.65,.3,-.45,-.75,-1.15],[83.2,.55,.1,-.8,-1.1]
];
const sodiumLevels = [
[2.9,75.5,80],[2.56,74.1,74.9,75.2,77.8,80.5,81.7,83,83.3,84.6],[2.2,74.3,74.5,76.2,77.1,78.6,79.3,80.9,81.2,81.6,83.3,84,84.2,85.3,85.5,85.7],
[1.86,71.5,72.9,73.3,73.6,74.2,75,75.9,76.8,77.6,77.9,78.8,79.2,79.5,79.9,80.4,80.8,82.2,82.9,85.2,85.7,86.3,87.6,88.2],
[1.52,73.4,73.8,74.1,74.4,74.7,75,75.3,75.6,75.9,76.2,76.5,76.8,77.1,77.4,77.7,78,78.3,78.6,78.9,79.2,79.5,79.8,80.1,80.4,80.7,81,81.3,81.6,81.9,82.3,82.6,82.9,83.2,83.5,84.1,84.6,85.4,85.9,86.2,86.4,87,87.2,88.5,89.4,90.2,90.5],
[1.17,71.1,71.3,72,72.3,72.6,72.9,73.2,73.5,73.8,74.1,74.4,74.7,75,75.3,75.6,75.9,76.2,76.5,76.8,77.1,77.4,77.7,78,78.3,78.6,78.9,79.2,79.5,79.8,80.1,80.4,80.7,81,81.3,81.6,81.9,82.2,82.5,82.8,83.1,83.4,83.7,84,84.3,84.6,84.9,85.2,85.5,85.8,86.1,86.4,86.7,87,87.3,87.6,88,88.5,88.8,89.3,89.6,89.9,90.1,90.8,92.2],
[.82,70.4,70.7,71,71.3,71.6,71.9,72.2,72.5,72.8,73.1,73.4,73.7,74,74.3,74.6,74.9,75.2,75.5,75.8,76.1,76.4,76.7,77,77.3,77.6,77.9,78.2,78.5,78.8,79.1,79.4,79.7,80,80.3,80.6,80.9,81.2,81.5,81.8,82.1,82.4,82.7,83,83.3,83.6,83.9,84.2,84.5,84.8,85.1,85.4,85.7,86,86.5,87.1,87.4,87.6,87.9,88.4,88.7,89,89.2,90,90.2,90.8],
[.47,70.3,70.6,70.9,71.2,71.5,71.8,72.1,72.4,72.7,73,73.3,73.6,73.9,74.2,74.5,74.8,75.1,75.4,75.7,76,76.3,76.6,76.9,77.2,77.5,77.8,78.1,78.4,78.7,79,79.3,79.6,79.9,80.2,80.5,80.8,81.1,81.4,81.7,82,82.3,82.6,82.9,83.2,83.5,83.8,84.1,84.4,84.7,85,85.3,85.6,85.9,86.2,86.5,86.8,87.1,87.6,87.9,88.2,88.5,88.8,89.1],
[.135,70.1,70.4,70.7,71,71.3,71.6,71.9,72.2,72.5,72.8,73.1,73.4,73.7,74,74.3,74.6,74.9,75.2,75.5,75.8,76.1,76.4,76.7,77,77.3,77.6,77.9,78.2,78.5,78.8,79.1,79.4,79.7,80,80.3,80.6,80.9,81.2,81.5,81.8,82.1,82.4,82.7,83,83.3,83.6,83.9,84.2,84.5,84.8,85.1,85.4,85.7,86,86.3,86.6,86.9,87.2,87.6,87.9,88.2,88.5,88.7,89.2,90.5],
[-.21,70.3,70.6,70.9,71.2,71.5,71.8,72.1,72.4,72.7,73,73.3,73.6,73.9,74.2,74.5,74.8,75.1,75.4,75.7,76,76.3,76.6,76.9,77.2,77.5,77.8,78.1,78.4,78.7,79,79.3,79.6,79.9,80.2,80.5,80.8,81.1,81.4,81.7,82,82.3,82.6,82.9,83.2,83.5,83.8,84.1,84.4,84.7,85,85.3,85.6,85.9,86.2,86.5,86.8,87.1,87.4,87.7,87.95,88.95,89.5,90,90.4,91.6,91.8],
[-.56,70.6,70.9,71.4,72,72.3,72.6,72.9,73.2,73.5,73.8,74.1,74.6,74.9,75.2,75.5,75.8,76.1,76.4,76.7,77,77.3,77.6,77.9,78.2,78.5,78.8,79.1,79.4,79.7,80,80.3,80.6,80.9,81.3,82.3,82.6,83.1,83.5,83.8,84.1,84.4,84.7,85,85.3,85.6,85.9,86.7,87.2,87.5,87.8,88.1,88.4,89.6,89.9,90.2,91],
[-.9,70.2,70.6,70.9,71.2,71.4,71.8,72.1,72.6,72.9,73.2,73.5,73.8,74.2,74.8,75.1,75.4,75.7,76,76.3,76.6,76.9,77.2,77.5,77.8,78.1,78.4,78.7,79,79.3,79.6,79.9,80.2,80.5,80.8,81.1,81.4,81.7,82,82.3,82.6,82.9,83.2,83.5,83.8,84.1,84.4,85.9,86.3,87,88.5],
[-1.25,71,71.2,71.7,72,72.3,72.7,73.2,73.6,74.1,74.5,74.8,75.1,75.4,75.7,76,76.5,77,77.3,77.6,77.9,78.2,78.5,78.8,79.2,79.5,80,81,80.7,81.2,81.6,81.9,82.2,83.2,83.9,84.2,84.6,85,85.3,85.6,85.9,86.2,86.5,86.8,87.1,87.4,87.7,90.1],
[-1.6,71.4,71.9,72.6,72.9,73.4,74.2,75.9,76.5,77.3,77.6,78,78.4,78.7,79,80.1,80.4,81.3,81.6,81.9,82.2,82.5,82.8,83.1,83.4,83.7,84,84.6,85.8,87,88.8],
[-1.94,70.6,74.2,74.3,75.2,76.3,77.3,77.8,78.1,78.4,78.7,79,79.6,79.9,80.2,80.4,81,83,83.3,83.6,84,84.3,84.6,85.8,86.9,87.1],
[-2.29,71.2,77,78.1,79.4,80.1,80.3,81.1,81.4,81.7,82,82.3,82.8,83.1,84,84.5,86.3],[-2.64,71.2,76.5,77.3,78.5,79.6,80.1,80.9,81.8,84.6,86.8,87.2,88.7],
[-2.97,71.2,77.3,77.5,78.7,79.9,80.5,83.1,83.4,83.8,84.2,84.5,85.2,85.4,86.6],[-3.32,71.3,73.4,77.3,79,81.1,81.3,83.1,83.9,85.9,89.7],[-3.67,78.9,86.2,89.8,89.9],[-4.36,77.2,82.6,83.6],[-4.71,74.1]
];
const crp = [
[70.1,-.03],[70.35,.1,-.1],[70.6,1.84,.55,.45,.2,-.12],[70.75,2.12,.75,.1,-.15,-.32],[70.97,2.89,.85,.3,.05,-.15],[71.3,.9,.55,.45,.2,.1,-.2],[71.6,2.3,1.3,1.1,.7,.3,.1,-.15],[71.9,2.2,1.5,1.1,.5,.4,.05,-.2],
[72.2,1.5,1.1,.75,.2,.1,-.1],[72.47,2.56,2.2,1.6,1.25,.9,.5,.25,-.25],[72.75,1.7,1.45,1.2,.55,.3,0,-.25],[73.1,1.45,1.2,1,.8,.5,.2,-.1,-.3],[73.5,1.85,1.6,1.3,1.1,.8,.6,.4,.1,-.15],[73.97,2.56,2.2,1.9,1.7,1.3,.9,.6,.3,.05,-.25],
[74.2,3.95],[74.3,2,1.8,1.35,1.05,.8,.6,.4,.1,-.25],[74.72,2.3,2.11,1.75,1.4,1.1,.9,.6,.3,.1,-.2],[75.1,1.7,1.4,1.15,.9,.6,.45,.2,-.05,-.32],[75.4,2.18,1.65,1.1,.75,.5,.3,.1,-.1],[75.82,3.38,2.42,2.05,1.55,1.2,.95,.6,.4,.15,-.1],
[76.05,2.7,1.85,1.35,1.2,.9,.7,.3,0,-.15],[76.55,2.8,1.75,1.5,1.05,.75,.5,.25,-.05,-.28],[77,1.95,1.3,1,.65,.3,.2,-.1,-.28],[77.3,1.85,1.05,.5,.3,.05,-.28],[77.88,2.07,1.7,1.5,1,.85,.4,.2,-.1,-.3],
[78.2,1.35,1,.5,.2,.05],[78.37,1.99,1.2,.85,.3,-.05,-.25],[78.9,2.25,1.3,1.15,.85,.55,.4,.2,-.2],[79,1.77,1.05,.7,.1,-.28],[79.3,2.15,.85,.4,.1,-.1],[79.63,2.73,1.11,.75,.4,.2,-.1,-.25],[80.02,2.28,.85,.45,.2,.05,-.2],
[80.04,3.22,.6],[80.24,1.87,1.18,.65,.15,-.3],[80.75,2.05,1.63,.85,.15,-.1],[81.2,.78,.25,.15],[81.6,.22,.12],[81.87,1.71,.15],[81.7,-.08],[82,-.18],[82.23,.3],[82.5,-.18],[83.1,2.25],[83.24,1.24],[83.5,-.08],[84,-.05]
];
const crpFill = [
[71.1,.3,.1,-.2],[71.45,.5,.25,0,-.2],[71.75,.65,.25,-.1],[72.05,.9,.65,.3,-.15],[72.35,1.05,.45,.2,0,-.2],[72.95,.7,.4,.15,-.2],[73.3,.7,.45,.3,.05],[73.7,1.45,1,.7,.45,.2,-.1],[74.15,1.6,1.2,.75,.45,.2,0],[74.5,1.35,.95,.7,.45,.25,0],[74.9,.95,.75,.45,.2,0],[75.25,1.3,.95,.7,.35,.15,-.1],[75.6,1.45,1.05,.75,.5,.25,.05],
[76.25,1.45,1.05,.8,.55,.35,.15],[76.8,1.25,.9,.55,.35,.15],[77.15,.85,.5,.2,-.05],[77.55,1,.75,.4,.15],[78.05,.75,.55,.3,.1],[78.6,.85,.55,.2,.05],[79.25,.6,.2,-.05],[79.8,.6,.3,0],[80.5,.7,.35,.1],[80.95,.25,.1]
];
const crpLevel = [-.84,70.15,70.45,70.75,71.05,71.35,71.65,71.95,72.25,72.55,72.85,73.15,73.45,73.75,74.05,74.35,74.65,74.95,75.25,75.55,75.85,76.15,76.45,76.75,77.05,77.35,77.65,77.95,78.25,78.55,78.85,79.15,79.45,79.75,80.05,80.35,80.65,80.95,81.25,81.55,81.85,82.15,82.45,82.75,83.05,83.35,83.6,84];
const dheasLevel = [-1.76,72.04,72.3,72.6,72.8,73.2,73.5,73.8,74.1,74.4,74.7,75,75.3,75.8,76.1,76.5,76.8,77.1,77.4,77.7,78,78.3,78.6,78.9,79.2,79.5,79.8,80.1,80.4,80.7,80.95,81.7,82,83.45,85,85.2,85.66];

const ageRows = [osteocalcin.concat(osteocalcinFill), bunRatio.concat(bunFill), [], dheas.concat(dheasFill), thyroid.concat(thyroidFill), cholesterol.concat(cholesterolFill), [], crp.concat(crpFill)];
const levelRows = [[], [], creatinineLevels, [dheasLevel], [], [], sodiumLevels, [crpLevel]];
const extraPts = [[], [], creatinineOut, [], [], [], [], []];

const frame = {
    id: 'frame',
    afterDatasetsDraw(chart) {
        const a = chart.chartArea;
        const c = chart.ctx;
        c.save();
        c.strokeStyle = '#000';
        c.lineWidth = 2;
        c.strokeRect(a.left, a.top, a.right - a.left, a.bottom - a.top);
        c.restore();
    }
};

function label(v) {
    return v < 0 ? minus + (-v) : String(v);
}

function panelPoints(i) {
    const pts = [];
    ageRows[i].forEach(r => r.slice(1).forEach(v => pts.push({ x: r[0], y: v })));
    levelRows[i].forEach(r => r.slice(1).forEach(a => pts.push({ x: a, y: r[0] })));
    extraPts[i].forEach(p => pts.push({ x: p[0], y: p[1] }));
    return pts;
}

function drawPanel(i) {
    const col = i % 2;
    const row = Math.floor(i / 2);
    const isBottom = row === 3;
    const titleH = 32;
    const axisH = 40;
    const canvas = document.createElement('canvas');
    const w = 55 + 370 + 3;
    const h = titleH + (plotBottoms[row] - plotTops[row]) + axisH + 2;
    canvas.width = w;
    canvas.height = h;
    canvas.style.left = (plotLefts[col] - 55) + 'px';
    canvas.style.top = (plotTops[row] - titleH) + 'px';
    document.getElementById('page').appendChild(canvas);

    new Chart(canvas.getContext('2d'), {
        type: 'scatter',
        data: {
            datasets: [{
                data: xRange.map((x, k) => ({ x: x, y: fitLines[i][k] })),
                showLine: true,
                borderColor: '#ff0000',
                borderWidth: 2.5,
                pointRadius: 0,
                order: 0
            }, {
                data: panelPoints(i),
                backgroundColor: '#000',
                borderWidth: 0,
                pointRadius: 3.7,
                order: 1
            }]
        },
        options: {
            responsive: false,
            animation: false,
            layout: { padding: { top: 0, left: 0, right: 3, bottom: 2 } },
            plugins: {
                legend: { display: false },
                tooltip: { enabled: false },
                title: {
                    display: true,
                    fullSize: false,
                    text: titles[i],
                    color: '#000',
                    font: { family: '"Liberation Sans"', size: 27.5, weight: 'bold', lineHeight: 1 },
                    padding: { top: 0, bottom: 4.5 }
                }
            },
            scales: {
                x: {
                    type: 'linear',
                    min: xRange[0],
                    max: xRange[1],
                    afterBuildTicks: s => { s.ticks = xTicks.map(v => ({ value: v })); },
                    afterFit: s => { s.height = axisH; },
                    grid: { drawOnChartArea: false, drawTicks: isBottom, tickLength: 5, tickColor: '#000', tickWidth: 1.5 },
                    border: { display: false },
                    ticks: { display: isBottom, color: '#000', font: { family: '"Liberation Sans"', size: 22 }, padding: 4, maxRotation: 0, callback: label }
                },
                y: {
                    min: yRanges[i][0],
                    max: yRanges[i][1],
                    afterBuildTicks: s => { s.ticks = yTicks[i].map(v => ({ value: v })); },
                    afterFit: s => { s.width = 55; },
                    grid: { drawOnChartArea: false, tickLength: 5, tickColor: '#000', tickWidth: 1.5 },
                    border: { display: false },
                    ticks: { color: '#000', font: { family: '"Liberation Sans"', size: 22 }, padding: 6, autoSkip: false, callback: label }
                }
            }
        },
        plugins: [frame]
    });
}

titles.forEach((t, i) => drawPanel(i));
</script>
</body>
</html>
